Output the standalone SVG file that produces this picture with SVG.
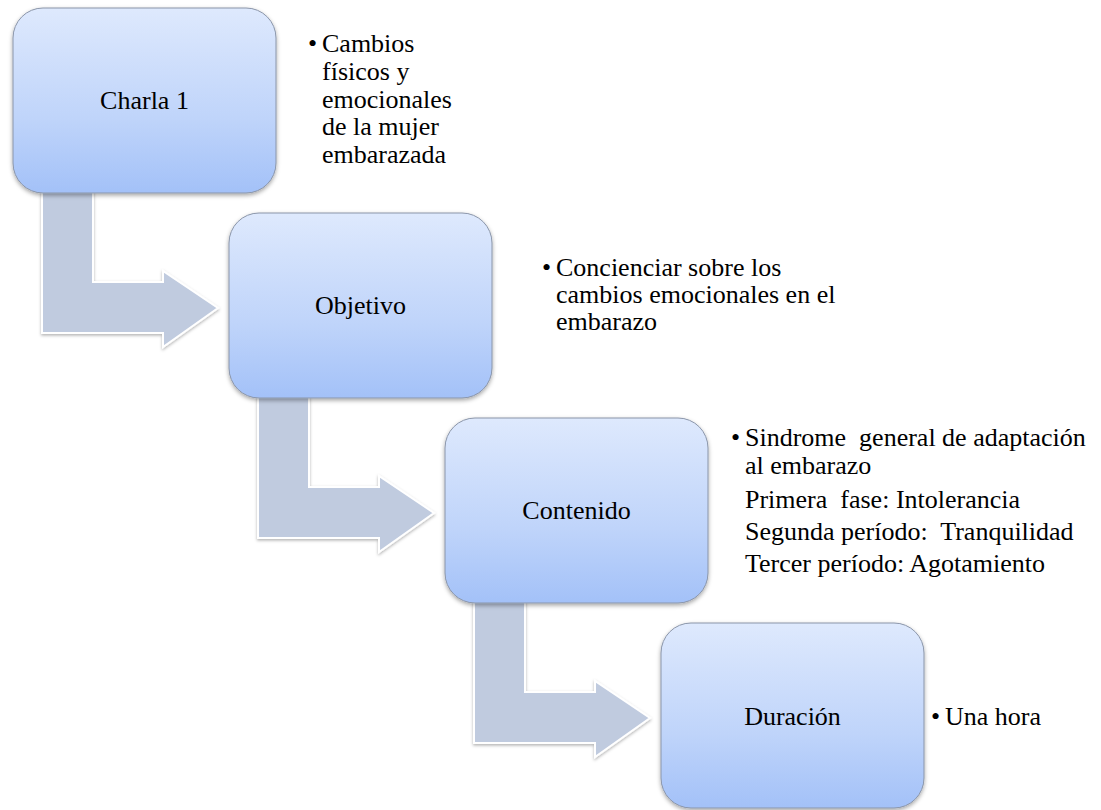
<svg xmlns="http://www.w3.org/2000/svg" width="1101" height="810" viewBox="0 0 1101 810">
  <defs>
    <linearGradient id="boxFill" x1="0" y1="0" x2="0" y2="1">
      <stop offset="0" stop-color="#dee9fd"/>
      <stop offset="0.6" stop-color="#bfd4fa"/>
      <stop offset="1" stop-color="#a3c1f8"/>
    </linearGradient>
    <filter id="shadow" x="-10%" y="-10%" width="125%" height="130%">
      <feDropShadow dx="0" dy="2" stdDeviation="2" flood-color="#000" flood-opacity="0.35"/>
    </filter>
    <filter id="arrowShadow" x="-10%" y="-10%" width="125%" height="130%">
      <feDropShadow dx="0" dy="1.5" stdDeviation="1.5" flood-color="#000" flood-opacity="0.3"/>
    </filter>
    <!-- bent arrow, drawn relative to the box it leaves -->
    <path id="bentArrow" d="M29,175 L80,175 L80,274 L150,274 L150,263 L205,300 L150,339 L150,325 L29,325 Z"/>
  </defs>
  <style>
    .box { fill: url(#boxFill); stroke: #8a95a9; stroke-width: 1; filter: url(#shadow); }
    .arrow { fill: #c0cbdf; stroke: #ffffff; stroke-width: 2; stroke-linejoin: miter; filter: url(#arrowShadow); }
    text { font-family: 'Liberation Serif', 'DejaVu Serif', serif; font-size: 26px; fill: #000; }
    .label { text-anchor: middle; }
    .note { white-space: pre; }
  </style>

  <g id="connectors">
    <use href="#bentArrow" class="arrow" transform="translate(13,8)"/>
    <use href="#bentArrow" class="arrow" transform="translate(229,213)"/>
    <use href="#bentArrow" class="arrow" transform="translate(445,418)"/>
  </g>

  <g id="charla">
    <rect class="box" x="13" y="8" width="263" height="185" rx="30" ry="30"/>
    <text class="label" x="144.5" y="109">Charla 1</text>
    <text class="note"><tspan x="308" y="52">•</tspan><tspan x="322" y="52">Cambios</tspan><tspan x="322" y="80">físicos y</tspan><tspan x="322" y="108">emocionales</tspan><tspan x="322" y="135">de la mujer</tspan><tspan x="322" y="163">embarazada</tspan></text>
  </g>

  <g id="objetivo">
    <rect class="box" x="229" y="213" width="263" height="185" rx="30" ry="30"/>
    <text class="label" x="360.5" y="314">Objetivo</text>
    <text class="note"><tspan x="542" y="276">•</tspan><tspan x="556" y="276">Concienciar sobre los</tspan><tspan x="556" y="303">cambios emocionales en el</tspan><tspan x="556" y="330">embarazo</tspan></text>
  </g>

  <g id="contenido">
    <rect class="box" x="445" y="418" width="263" height="185" rx="30" ry="30"/>
    <text class="label" x="576.5" y="519">Contenido</text>
    <text class="note"><tspan x="731" y="446">•</tspan><tspan x="745" y="446">Sindrome  general de adaptación</tspan><tspan x="745" y="474">al embarazo</tspan><tspan x="745" y="508">Primera  fase: Intolerancia</tspan><tspan x="745" y="540">Segunda período:  Tranquilidad</tspan><tspan x="745" y="572">Tercer período: Agotamiento</tspan></text>
  </g>

  <g id="duracion">
    <rect class="box" x="661" y="623" width="263" height="185" rx="30" ry="30"/>
    <text class="label" x="792.5" y="725">Duración</text>
    <text class="note"><tspan x="931" y="725">•</tspan><tspan x="945" y="725">Una hora</tspan></text>
  </g>
</svg>
